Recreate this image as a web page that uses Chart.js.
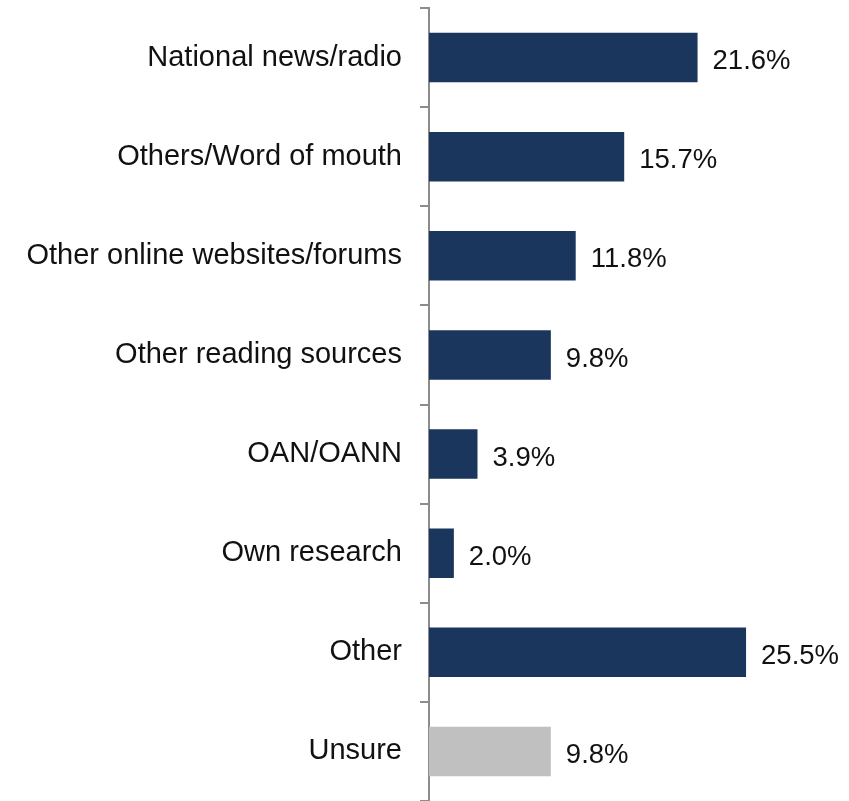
<!DOCTYPE html>
<html>
<head>
<meta charset="utf-8">
<script src="https://cdn.jsdelivr.net/npm/chart.js@4/dist/chart.umd.min.js"></script>
<style>
  html, body { margin: 0; padding: 0; background: #fff; overflow: hidden; }
  #wrap { width: 849px; height: 801px; }
</style>
</head>
<body>
<div id="wrap"><canvas id="sourceChart" width="849" height="801"></canvas></div>
<script>
// Données
const categories = [
  'National news/radio',
  'Others/Word of mouth',
  'Other online websites/forums',
  'Other reading sources',
  'OAN/OANN',
  'Own research',
  'Other',
  'Unsure'
];
const values = [21.6, 15.7, 11.8, 9.8, 3.9, 2.0, 25.5, 9.8];
const barColors = ['#1B365D', '#1B365D', '#1B365D', '#1B365D', '#1B365D', '#1B365D', '#1B365D', '#C0C0C0'];

const FONT = '"Liberation Sans", Arial, Helvetica, sans-serif';

// Étiquettes de valeur au bout des barres
const valueLabels = {
  id: 'valueLabels',
  afterDatasetsDraw(chart) {
    const ctx = chart.ctx;
    const meta = chart.getDatasetMeta(0);
    ctx.save();
    ctx.font = '27.5px ' + FONT;
    ctx.fillStyle = '#111';
    ctx.textAlign = 'left';
    ctx.textBaseline = 'middle';
    meta.data.forEach((bar, i) => {
      ctx.fillText(values[i].toFixed(1) + '%', bar.x + 15, bar.y + 4);
    });
    ctx.restore();
  }
};

const ctx = document.getElementById('sourceChart').getContext('2d');
new Chart(ctx, {
  type: 'bar',
  data: {
    labels: categories,
    datasets: [{
      data: values,
      backgroundColor: barColors,
      borderWidth: 0,
      barPercentage: 0.5,
      categoryPercentage: 1.0
    }]
  },
  options: {
    indexAxis: 'y',
    responsive: false,
    animation: false,
    devicePixelRatio: 1,
    layout: { padding: { top: 8, bottom: -2, left: 0, right: 47 } },
    plugins: {
      legend: { display: false },
      tooltip: { enabled: false }
    },
    scales: {
      x: {
        display: false,
        min: 0,
        max: 30
      },
      y: {
        afterFit: (scale) => {
          scale.width = 429;
          scale.paddingTop = 0;
          scale.paddingBottom = 0;
        },
        border: { display: true, color: '#8C8C8C', width: 2 },
        grid: {
          offset: true,
          drawOnChartArea: false,
          drawTicks: true,
          tickLength: 9,
          color: '#8C8C8C',
          lineWidth: 2
        },
        ticks: {
          color: '#111',
          padding: 18,
          font: { family: FONT, size: 29 }
        }
      }
    }
  },
  plugins: [valueLabels]
});
</script>
</body>
</html>
